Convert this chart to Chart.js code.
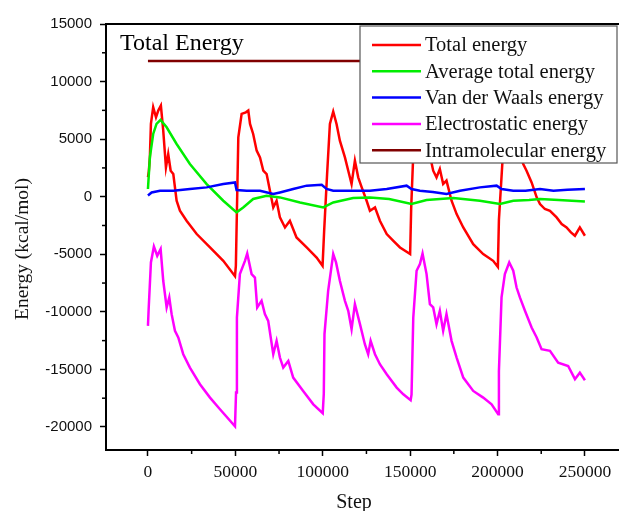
<!DOCTYPE html>
<html>
<head>
<meta charset="utf-8">
<script src="https://cdn.jsdelivr.net/npm/chart.js@4/dist/chart.umd.min.js"></script>
<style>
  html, body { margin: 0; padding: 0; background: #fff; }
  #wrap { width: 619px; height: 511px; }
</style>
</head>
<body>
<div id="wrap"><canvas id="energy-chart"></canvas></div>
<script>
// series (step, kcal/mol)
var totalSteps = [0, 500, 1100, 1700, 3000, 4600, 5900, 7400, 8750, 10300, 11600, 13000, 14500, 16400, 18300, 22100, 27900, 35500, 43100, 49800, 50300, 51700, 53600, 56000, 57400, 58400, 60200, 62200, 64100, 66000, 67900, 69800, 71700, 73600, 75500, 78400, 81200, 85000, 90800, 96500, 99900, 100800, 102500, 104100, 106000, 107900, 109800, 112700, 114600, 116500, 118400, 120300, 122300, 125100, 127000, 129900, 132700, 136600, 140400, 144200, 150000, 150600, 152000, 154000, 156500, 159000, 161300, 163200, 165100, 167000, 168900, 170800, 173700, 176600, 180400, 186100, 191800, 197500, 200200, 200800, 203000, 205500, 207500, 210000, 212500, 214700, 216600, 219500, 222400, 224300, 227100, 230000, 233800, 236700, 239500, 242000, 244300, 247100, 250000];
var totalValues = [1700, 2200, 3420, 6320, 7770, 6900, 7480, 7910, 5740, 2550, 3710, 2260, 1970, -350, -1220, -2090, -3240, -4410, -5570, -6900, -6000, 5160, 7190, 7330, 7480, 6320, 5450, 4000, 3420, 2260, 1970, 520, -930, -350, -1800, -2670, -2090, -3540, -4410, -5280, -6000, -3000, 1970, 6320, 7400, 6320, 4870, 3420, 2260, 1100, 3130, 1680, 810, -350, -1220, -930, -2090, -3240, -3830, -4410, -4980, -1000, 4500, 6500, 7000, 5800, 3600, 2260, 1680, 2400, 1100, 1400, -350, -1510, -2670, -4120, -4980, -5570, -6100, -2000, 3500, 5300, 5600, 4900, 3800, 2840, 2260, 1240, -60, -640, -1070, -1220, -1800, -2380, -2670, -3100, -3390, -2670, -3390];

var avgSteps = [0, 1100, 3000, 4900, 7200, 10700, 16400, 24000, 33600, 43100, 50700, 54500, 60200, 67900, 75500, 87000, 100300, 106000, 117400, 127000, 138000, 150800, 159400, 174700, 189900, 201400, 209000, 218000, 224300, 235000, 250000];
var avgValues = [670, 3420, 5450, 6320, 6670, 6030, 4580, 2840, 1100, -350, -1360, -930, -200, 87, -60, -500, -930, -500, -120, -60, -200, -640, -290, -120, -350, -640, -350, -290, -200, -290, -410];

var vdwSteps = [0, 2100, 6900, 14500, 24000, 33600, 43100, 49800, 50700, 56500, 64100, 71700, 75500, 83100, 90800, 99400, 102200, 106000, 117400, 127000, 136600, 148000, 150800, 155600, 163000, 170800, 178500, 189900, 199500, 202300, 209000, 216000, 224300, 232000, 240000, 250000];
var vdwValues = [100, 370, 520, 520, 670, 810, 1100, 1240, 580, 520, 520, 230, 370, 670, 960, 1040, 670, 520, 520, 520, 670, 960, 670, 520, 400, 230, 520, 810, 960, 670, 520, 520, 670, 520, 600, 670];

var elecSteps = [0, 400, 1700, 3400, 5300, 7250, 8750, 10700, 12200, 13550, 15450, 17350, 20200, 24000, 29750, 35500, 41200, 49800, 50400, 50900, 52600, 55500, 56800, 59300, 61200, 62500, 65000, 66900, 68800, 71700, 73600, 75500, 77400, 80300, 83100, 88800, 94600, 100000, 100600, 101000, 103100, 106000, 107600, 109800, 112700, 114600, 116500, 118400, 121300, 124100, 126000, 127400, 129900, 132700, 136600, 142300, 146100, 150300, 150800, 151800, 153700, 155600, 157100, 159400, 161300, 163200, 165100, 167000, 168900, 170800, 173700, 176600, 180400, 186100, 191800, 196600, 200400, 200800, 202300, 204200, 206700, 209000, 210900, 212800, 215700, 219500, 222400, 225200, 230000, 234700, 240400, 244300, 247100, 250000];
var elecValues = [-11220, -9770, -5710, -4320, -5130, -4550, -7300, -9620, -8750, -10200, -11650, -12230, -13680, -14840, -16290, -17450, -18460, -19950, -17000, -10500, -6720, -5570, -4930, -6720, -7020, -9620, -9040, -10200, -10780, -13680, -12520, -13970, -14840, -14260, -15710, -16870, -18030, -18800, -17130, -11940, -8170, -4980, -5710, -7300, -9040, -9910, -11500, -9330, -11070, -12810, -13680, -12520, -13680, -14550, -15420, -16580, -17160, -17680, -17200, -10500, -6430, -5850, -4930, -6720, -9330, -9620, -11070, -9910, -11650, -10200, -12520, -13970, -15710, -16870, -17450, -18030, -18900, -15130, -8750, -6720, -5710, -6430, -7890, -8750, -9910, -11360, -12230, -13240, -13390, -14410, -14700, -15850, -15280, -15940];

var intraSteps = [0, 250000];
var intraValues = [11780, 11780];

var seriesLabels = ["Total energy", "Average total energy", "Van der Waals energy", "Electrostatic energy", "Intramolecular energy"];
var seriesColors = ["#ff0000", "#00ee00", "#0000ff", "#ff00ff", "#800000"];

var xTicks = [0, 50000, 100000, 150000, 200000, 250000];
var yTicks = [-20000, -15000, -10000, -5000, 0, 5000, 10000, 15000];

function pts(steps, vals) {
    return steps.map(function (s, i) { return { x: s, y: vals[i] }; });
}

var allSeries = [
    pts(totalSteps, totalValues),
    pts(avgSteps, avgValues),
    pts(vdwSteps, vdwValues),
    pts(elecSteps, elecValues),
    pts(intraSteps, intraValues)
];

var serif = "'Liberation Serif', 'Times New Roman', serif";
var sans = "'Liberation Sans', Arial, sans-serif";

// top frame line, minor ticks, axis titles, inner title and boxed legend
var framePlugin = {
    id: 'frame',
    afterDraw: function (chart) {
        var ctx = chart.ctx, a = chart.chartArea;
        var xs = chart.scales.x, ys = chart.scales.y;
        ctx.save();
        ctx.strokeStyle = '#000';
        ctx.lineWidth = 2;
        ctx.beginPath();
        ctx.moveTo(a.left - 1, a.top);
        ctx.lineTo(a.right, a.top);
        ctx.stroke();

        // minor ticks
        ctx.lineWidth = 1.5;
        for (var v = 25000; v < 270000; v += 50000) {
            var px = xs.getPixelForValue(v);
            ctx.beginPath(); ctx.moveTo(px, a.bottom); ctx.lineTo(px, a.bottom + 4); ctx.stroke();
        }
        for (var w = -17500; w < 15000; w += 5000) {
            var py = ys.getPixelForValue(w);
            ctx.beginPath(); ctx.moveTo(a.left, py); ctx.lineTo(a.left - 4, py); ctx.stroke();
        }

        ctx.fillStyle = '#111';
        ctx.textBaseline = 'middle';
        ctx.textAlign = 'center';
        ctx.font = '20px ' + serif;
        ctx.fillText('Step', 354, 503);
        ctx.save();
        ctx.translate(23, 249);
        ctx.rotate(-Math.PI / 2);
        ctx.font = '19.5px ' + serif;
        ctx.fillText('Energy (kcal/mol)', 0, 0);
        ctx.restore();

        ctx.fillStyle = '#000';
        ctx.font = '24px ' + serif;
        ctx.textAlign = 'left';
        ctx.fillText('Total Energy', a.left + 14, a.top + 20);

        // legend box
        var bx = 360, by = 26, bw = 257, bh = 137;
        ctx.fillStyle = '#fff';
        ctx.fillRect(bx, by, bw, bh);
        ctx.strokeStyle = '#555';
        ctx.lineWidth = 1.2;
        ctx.strokeRect(bx, by, bw, bh);
        ctx.font = '20.5px ' + serif;
        chart.data.datasets.forEach(function (ds, i) {
            var ry = by + 19 + i * 26.3;
            ctx.strokeStyle = ds.borderColor;
            ctx.lineWidth = 2.5;
            ctx.beginPath(); ctx.moveTo(372, ry); ctx.lineTo(421, ry); ctx.stroke();
            ctx.fillStyle = '#111';
            ctx.fillText(ds.label, 425, ry + 1);
        });
        ctx.restore();
    }
};

var ctxEnergy = document.getElementById('energy-chart').getContext('2d');

var energyChart = new Chart(ctxEnergy, {
    type: 'line',
    data: {
        datasets: allSeries.map(function (d, i) {
            return {
                label: seriesLabels[i],
                data: d,
                borderColor: seriesColors[i],
                backgroundColor: seriesColors[i],
                borderWidth: 2.5,
                pointRadius: 0,
                tension: 0,
                order: 4 - i
            };
        })
    },
    options: {
        responsive: true,
        maintainAspectRatio: false,
        animation: false,
        layout: { padding: { top: 24, right: 0, left: 0, bottom: 0 } },
        plugins: {
            legend: { display: false },
            tooltip: { enabled: false }
        },
        scales: {
            x: {
                type: 'linear',
                min: -24000,
                max: 269500,
                afterBuildTicks: function (s) { s.ticks = xTicks.map(function (v) { return { value: v }; }); },
                afterFit: function (s) { s.height = 61; },
                border: { display: true, color: '#000', width: 2 },
                grid: { drawOnChartArea: false, drawTicks: true, tickLength: 6, color: '#000', tickWidth: 1.5 },
                ticks: {
                    autoSkip: false, maxRotation: 0, padding: 6, color: '#111',
                    font: { family: serif, size: 17.5 },
                    callback: function (v) { return String(v); }
                }
            },
            y: {
                min: -22000,
                max: 15000,
                afterBuildTicks: function (s) { s.ticks = yTicks.map(function (v) { return { value: v }; }); },
                afterFit: function (s) { s.width = 106; },
                border: { display: true, color: '#000', width: 2 },
                grid: { drawOnChartArea: false, drawTicks: true, tickLength: 6, color: '#000', tickWidth: 1.5 },
                ticks: {
                    autoSkip: false, padding: 8, color: '#111',
                    font: { family: sans, size: 15 },
                    callback: function (v) { return String(v); }
                }
            }
        }
    },
    plugins: [framePlugin]
});
</script>
</body>
</html>
